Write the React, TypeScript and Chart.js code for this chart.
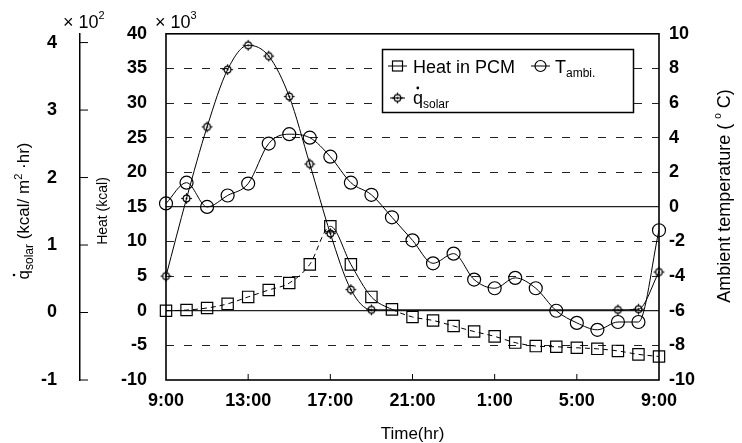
import React, { useEffect, useRef } from 'react';
import { Chart, registerables } from 'chart.js';

Chart.register(...registerables);

const FONT = "'Liberation Sans', Arial, Helvetica, sans-serif";

// hourly categories from 9:00 to 9:00 next day
const hours = ['9:00', '10:00', '11:00', '12:00', '13:00', '14:00', '15:00', '16:00', '17:00', '18:00', '19:00', '20:00', '21:00', '22:00', '23:00', '0:00', '1:00', '2:00', '3:00', '4:00', '5:00', '6:00', '7:00', '8:00', '9:00'];
// Heat in PCM, ×10^3 kcal
const heatInPCM = [0, 0.1, 0.4, 1.0, 2.0, 3.0, 4.0, 6.7, 12.2, 6.7, 2.0, 0.2, -0.9, -1.4, -2.2, -3.0, -3.7, -4.6, -5.1, -5.2, -5.35, -5.5, -5.8, -6.3, -6.6];
// Ambient temperature, °C
const tAmbient = [0.2, 1.4, 0.0, 0.66, 1.35, 3.66, 4.2, 4.0, 2.9, 1.4, 0.7, -0.6, -1.93, -3.26, -2.7, -4.2, -4.7, -4.1, -4.7, -6.0, -6.7, -7.1, -6.65, -6.65, -1.35];
// q solar, ×10^2 kcal/m²·hr
const qSolar = [0.54, 1.69, 2.75, 3.6, 3.96, 3.8, 3.2, 2.2, 1.17, 0.34, 0.04, null, null, null, null, null, null, null, null, null, null, null, 0.04, 0.05, 0.6];

const heatTicks = [-10, -5, 0, 5, 10, 15, 20, 25, 30, 35, 40];
const tempTicks = [-10, -8, -6, -4, -2, 0, 2, 4, 6, 8, 10];
const qTicks = [-1, 0, 1, 2, 3, 4];
const solidHeatGrid = [0, 15];

type Run = { text: string; size: number; dy?: number };

function runsWidth(ctx: CanvasRenderingContext2D, runs: Run[]) {
  let w = 0;
  for (const r of runs) {
    ctx.font = `${r.size}px ${FONT}`;
    w += ctx.measureText(r.text).width;
  }
  return w;
}
function drawRuns(ctx: CanvasRenderingContext2D, runs: Run[], x: number, y: number) {
  let cx = x;
  const starts: number[] = [];
  for (const r of runs) {
    ctx.font = `${r.size}px ${FONT}`;
    starts.push(cx);
    ctx.fillText(r.text, cx, y + (r.dy || 0));
    cx += ctx.measureText(r.text).width;
  }
  return starts;
}

function makeQMarker(): HTMLCanvasElement {
  const c = document.createElement('canvas');
  c.width = 13;
  c.height = 13;
  const g = c.getContext('2d')!;
  g.strokeStyle = '#000';
  g.lineWidth = 1.2;
  g.beginPath();
  g.arc(6.5, 6.5, 3.3, 0, Math.PI * 2);
  g.stroke();
  for (let k = 0; k < 4; k++) {
    const a = (k * Math.PI) / 2;
    g.beginPath();
    g.moveTo(6.5 + Math.cos(a) * 3.3, 6.5 + Math.sin(a) * 3.3);
    g.lineTo(6.5 + Math.cos(a) * 5.3, 6.5 + Math.sin(a) * 5.3);
    g.stroke();
  }
  g.fillStyle = '#000';
  g.beginPath();
  g.arc(6.5, 6.5, 1, 0, Math.PI * 2);
  g.fill();
  return c;
}

export default function App() {
  const ref = useRef<HTMLCanvasElement | null>(null);

  useEffect(() => {
    const canvas = ref.current!;
    const qMarker = makeQMarker();

    const decor = {
      id: 'decor',
      beforeDatasetsDraw(chart: any) {
        const { ctx, chartArea: a } = chart;
        ctx.save();
        // legend background (covers grid lines)
        ctx.fillStyle = '#fff';
        ctx.fillRect(382.5, 49.5, 251, 63);
        ctx.strokeStyle = '#000';
        ctx.lineWidth = 1.6;
        ctx.strokeRect(a.left, a.top, a.right - a.left, a.bottom - a.top);
        ctx.lineWidth = 1;
        const xs = chart.scales.x;
        hours.forEach((_h, i) => {
          if (i % 4 === 0 && i > 0 && i < hours.length - 1) {
            const x = xs.getPixelForValue(i);
            ctx.beginPath();
            ctx.moveTo(x, a.bottom);
            ctx.lineTo(x, a.bottom - 6);
            ctx.stroke();
          }
        });
        const yq = chart.scales.yQ;
        qTicks.forEach((v) => {
          const y = yq.getPixelForValue(v);
          ctx.beginPath();
          ctx.moveTo(yq.right, y);
          ctx.lineTo(yq.right + 8, y);
          ctx.stroke();
        });
        ctx.restore();
      },
      afterDraw(chart: any) {
        const { ctx, chartArea: a } = chart;
        ctx.save();
        ctx.fillStyle = '#000';
        ctx.textBaseline = 'alphabetic';
        ctx.textAlign = 'left';

        // multipliers
        const m1: Run[] = [{ text: '× 10', size: 18 }, { text: '2', size: 11, dy: -9 }];
        drawRuns(ctx, m1, 63, 28);
        const m2: Run[] = [{ text: '× 10', size: 18 }, { text: '3', size: 11, dy: -9 }];
        drawRuns(ctx, m2, 155, 28);

        // q solar title
        ctx.save();
        ctx.translate(29, 211);
        ctx.rotate(-Math.PI / 2);
        const qt: Run[] = [
          { text: 'q', size: 17 },
          { text: 'solar', size: 12, dy: 4 },
          { text: ' (kcal/ m', size: 17 },
          { text: '2', size: 11, dy: -7 },
          { text: ' ·hr)', size: 17 },
        ];
        const qw = runsWidth(ctx, qt);
        const st = drawRuns(ctx, qt, -qw / 2, 0);
        ctx.beginPath();
        ctx.arc(st[0] + 4.5, -15, 1.3, 0, Math.PI * 2);
        ctx.fill();
        ctx.restore();

        // Heat title
        ctx.save();
        ctx.translate(107, 211);
        ctx.rotate(-Math.PI / 2);
        ctx.textAlign = 'center';
        ctx.font = `14px ${FONT}`;
        ctx.fillText('Heat (kcal)', 0, 0);
        ctx.restore();

        // Ambient temperature title
        ctx.save();
        ctx.translate(730, 196);
        ctx.rotate(-Math.PI / 2);
        const at: Run[] = [
          { text: 'Ambient temperature ( ', size: 18 },
          { text: 'o', size: 10, dy: -9 },
          { text: ' C)', size: 18 },
        ];
        const aw = runsWidth(ctx, at);
        drawRuns(ctx, at, -aw / 2, 0);
        ctx.restore();

        // x title
        ctx.textAlign = 'center';
        ctx.font = `17px ${FONT}`;
        ctx.fillText('Time(hr)', (a.left + a.right) / 2, 439);
        ctx.textAlign = 'left';

        // legend
        ctx.strokeStyle = '#000';
        ctx.lineWidth = 1.5;
        ctx.strokeRect(382.5, 49.5, 251, 63);
        ctx.lineWidth = 1;
        // row 1: heat in PCM
        const r1 = 66;
        ctx.beginPath();
        ctx.moveTo(388, r1);
        ctx.lineTo(407, r1);
        ctx.stroke();
        ctx.lineWidth = 1.2;
        ctx.strokeRect(392.5, r1 - 5, 10, 10);
        drawRuns(ctx, [{ text: 'Heat in PCM', size: 18 }], 413, r1 + 7);
        // T ambi
        ctx.lineWidth = 1;
        ctx.beginPath();
        ctx.moveTo(531, r1);
        ctx.lineTo(550, r1);
        ctx.stroke();
        ctx.lineWidth = 1.2;
        ctx.beginPath();
        ctx.arc(540.5, r1, 5.5, 0, Math.PI * 2);
        ctx.stroke();
        drawRuns(ctx, [{ text: 'T', size: 18 }, { text: 'ambi.', size: 12, dy: 4 }], 555, r1 + 7);
        // row 2: q solar
        const r2 = 98;
        ctx.lineWidth = 1;
        ctx.beginPath();
        ctx.moveTo(390, r2);
        ctx.lineTo(405, r2);
        ctx.stroke();
        ctx.drawImage(qMarker, 397.5 - 6.5, r2 - 6.5);
        const s2 = drawRuns(ctx, [{ text: 'q', size: 18 }, { text: 'solar', size: 12, dy: 4 }], 413, r2 + 6);
        ctx.beginPath();
        ctx.arc(s2[0] + 4.8, r2 - 10, 1.4, 0, Math.PI * 2);
        ctx.fill();

        ctx.restore();
      },
    };

    const tickFont = { family: FONT, size: 18, weight: 'bold' as const };

    const chart = new Chart(canvas, {
      type: 'line',
      data: {
        labels: hours,
        datasets: [
          {
            label: 'Heat in PCM',
            data: heatInPCM,
            yAxisID: 'yHeat',
            borderColor: '#000',
            borderWidth: 1,
            pointStyle: 'rect',
            pointRadius: 8,
            pointBorderWidth: 1.2,
            pointBorderColor: '#000',
            pointBackgroundColor: 'rgba(0,0,0,0)',
            cubicInterpolationMode: 'monotone',
            segment: {
              borderDash: (c: any) => (c.p0DataIndex >= 8 && c.p0DataIndex < 11 ? [] : [5, 4]),
            },
          },
          {
            label: 'T ambi.',
            data: tAmbient,
            yAxisID: 'yT',
            borderColor: '#000',
            borderWidth: 1,
            pointStyle: 'circle',
            pointRadius: 6.5,
            pointBorderWidth: 1.2,
            pointBorderColor: '#000',
            pointBackgroundColor: 'rgba(0,0,0,0)',
            cubicInterpolationMode: 'monotone',
          },
          {
            label: 'q solar',
            data: qSolar,
            yAxisID: 'yQ',
            borderColor: '#000',
            borderWidth: 1,
            pointStyle: qMarker,
            pointRadius: 5,
            cubicInterpolationMode: 'monotone',
            spanGaps: true,
          },
        ],
      },
      options: {
        responsive: false,
        animation: false,
        devicePixelRatio: 1,
        layout: { padding: { left: 0, right: 0, top: 33, bottom: 0 } },
        plugins: { legend: { display: false }, tooltip: { enabled: false } },
        scales: {
          x: {
            type: 'category',
            offset: false,
            grid: { drawOnChartArea: false, drawTicks: false },
            border: { display: false },
            ticks: {
              autoSkip: false,
              maxRotation: 0,
              minRotation: 0,
              padding: 10,
              color: '#000',
              font: tickFont,
              callback: (_v: any, i: number) => (i % 4 === 0 ? hours[i] : ''),
            },
            afterFit: (s: any) => {
              s.height = 63;
            },
          },
          yQ: {
            type: 'linear',
            position: 'left',
            weight: 10,
            min: -1,
            max: 4.13,
            afterBuildTicks: (s: any) => {
              s.ticks = qTicks.map((v) => ({ value: v }));
            },
            grid: { drawOnChartArea: false, drawTicks: false },
            border: { display: true, color: '#000', width: 1.5 },
            ticks: { padding: 23, color: '#000', font: tickFont },
            afterFit: (s: any) => {
              s.width = 80;
            },
          },
          yHeat: {
            type: 'linear',
            position: 'left',
            weight: 0,
            min: -10,
            max: 40,
            afterBuildTicks: (s: any) => {
              s.ticks = heatTicks.map((v) => ({ value: v }));
            },
            grid: {
              drawTicks: false,
              lineWidth: (c: any) => (c.tick && solidHeatGrid.includes(c.tick.value) ? 1.3 : 1),
              color: (c: any) =>
                c.tick && (c.tick.value === heatTicks[0] || c.tick.value === heatTicks[heatTicks.length - 1])
                  ? 'rgba(0,0,0,0)'
                  : '#222',
            },
            border: {
              display: false,
              dash: (c: any) => (c.tick && !solidHeatGrid.includes(c.tick.value) ? [8, 10] : []),
            },
            ticks: { padding: 19, color: '#000', font: tickFont },
            afterFit: (s: any) => {
              s.width = 86;
            },
          },
          yT: {
            type: 'linear',
            position: 'right',
            min: -10,
            max: 10,
            afterBuildTicks: (s: any) => {
              s.ticks = tempTicks.map((v) => ({ value: v }));
            },
            grid: { drawOnChartArea: false, drawTicks: false },
            border: { display: false },
            ticks: { padding: 10, color: '#000', font: tickFont },
            afterFit: (s: any) => {
              s.width = 83;
            },
          },
        },
      },
      plugins: [decor],
    } as any);

    return () => chart.destroy();
  }, []);

  return (
    <div style={{ position: 'absolute', left: 0, top: 0, width: 742, height: 443, background: '#fff' }}>
      <canvas ref={ref} width={742} height={443} style={{ display: 'block', width: 742, height: 443 }} />
    </div>
  );
}
